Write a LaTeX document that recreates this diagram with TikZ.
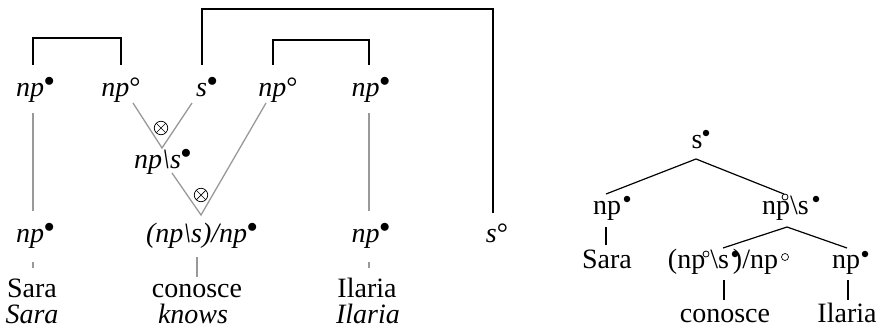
\documentclass[tikz,border=0pt]{standalone}
\usepackage{fontspec}
\setmainfont{Liberation Serif}
\newcommand{\pb}{\ensuremath{^{\bullet}}}
\newcommand{\pw}{\textdegree}
\tikzset{
  lbl/.style={anchor=base, inner sep=0pt, font=\fontsize{28}{32}\selectfont},
  trace/.style={draw=black!40, line width=1.3pt},
  axiom/.style={draw=black, line width=2pt},
  branch/.style={draw=black, line width=1.2pt},
  tensor/.style={circle, draw=black, line width=0.7pt, minimum size=13.5pt, inner sep=0pt,
    path picture={\draw[line width=0.7pt] (path picture bounding box.north west) -- (path picture bounding box.south east)
      (path picture bounding box.north east) -- (path picture bounding box.south west);}},
  fulldot/.style={circle, fill=black, inner sep=0pt, minimum size=6.5pt},
  opendot/.style={circle, draw=black, fill=white, line width=0.8pt, inner sep=0pt, minimum size=6pt}
}
\begin{document}
\begin{tikzpicture}[x=1pt,y=-1pt]
\useasboundingbox (0,0) rectangle (880,329);

% ---- proof net ----
\node[lbl] (t1) at (35.5,96) {\textit{np}\pb};
\node[lbl] (t2) at (121,96) {\textit{np}\pw};
\node[lbl] (t3) at (207,96) {\textit{s}\pb};
\node[lbl] (t4) at (278,96) {\textit{np}\pw};
\node[lbl] (t5) at (371,96) {\textit{np}\pb};
\node[lbl] (m1) at (163,168) {\textit{np\textbackslash s}\pb};
\node[lbl] (b1) at (35.5,242) {\textit{np}\pb};
\node[lbl] (b2) at (202,242) {\textit{(np\textbackslash s)/np}\pb};
\node[lbl] (b3) at (371,242) {\textit{np}\pb};
\node[lbl] (b4) at (497,242) {\textit{s}\pw};
\node[lbl] (w1) at (32,297) {Sara};
\node[lbl] (w2) at (197,297) {conosce};
\node[lbl] (w3) at (367,297) {Ilaria};
\node[lbl] (g1) at (32,323) {\textit{Sara}};
\node[lbl] (g2) at (193,323) {\textit{knows}};
\node[lbl] (g3) at (368,323) {\textit{Ilaria}};

% tensor links
\node[tensor] (x1) at (161,128) {};
\node[tensor] (x2) at (201,195) {};
\coordinate (v1a) at (133,103);
\coordinate (v1b) at (192,103);
\coordinate (v1c) at (162,148);
\coordinate (v2a) at (172,173);
\coordinate (v2b) at (266,103);
\coordinate (v2c) at (201,215);
\draw[trace] (v1a) -- (v1c) -- (v1b);
\draw[trace] (v2a) -- (v2c) -- (v2b);

% lexical traces
\coordinate (s1) at (33,113);  \coordinate (s2) at (33,211);
\coordinate (i1) at (369,113); \coordinate (i2) at (369,211);
\draw[trace] (s1) -- (s2);
\draw[trace] (i1) -- (i2);
\coordinate (ws1) at (33,262);  \coordinate (ws2) at (33,268);
\coordinate (wc1) at (197,257); \coordinate (wc2) at (197,277);
\coordinate (wi1) at (369,262); \coordinate (wi2) at (369,268);
\draw[trace] (ws1) -- (ws2);
\draw[trace] (wc1) -- (wc2);
\draw[trace] (wi1) -- (wi2);

% axiom links
\coordinate (a1) at (33,65);   \coordinate (a2) at (121,65);
\coordinate (a3) at (273,65);  \coordinate (a4) at (369,65);
\coordinate (a5) at (202,65);  \coordinate (a6) at (493,213);
\draw[axiom] (a1) -- ++(0,-27) -| (a2);
\draw[axiom] (a3) -- ++(0,-25) -| (a4);
\draw[axiom] (a5) -- (202,9) -| (a6);

% ---- derivation tree ----
\node[lbl] (rs) at (697,148) {s};
\node[lbl] (rnp) at (607,214) {np};
\node[lbl] (rvp) at (785.5,214) {np\textbackslash s};
\node[lbl] (rsara) at (607,268) {Sara};
\node[lbl] (rv) at (723,268) {(np\kern5pt\textbackslash s\kern4pt)/np};
\node[lbl] (rnp2) at (846,268) {np};
\node[lbl] (rcon) at (725,322) {conosce};
\node[lbl] (ril) at (847,322) {Ilaria};

% polarity marks of the tree labels
\node[fulldot] at (706,133) {};
\node[fulldot] at (627,199) {};
\node[opendot] (rc1) at (785,197) {};
\node[fulldot] at (816,199) {};
\node[opendot] at (706,254) {};
\node[fulldot] at (735,254) {};
\node[opendot, minimum size=7pt, line width=0.7pt] at (785,257) {};
\node[fulldot] at (865,254) {};

\coordinate (r0) at (696,159);
\coordinate (r1) at (606,194);
\coordinate (r2) at (784,194);
\coordinate (r3) at (787,227);
\coordinate (r4) at (723,248);
\coordinate (r5) at (847,248);
\draw[branch] (r1) -- (r0) -- (r2);
\draw[branch] (r4) -- (r3) -- (r5);
\coordinate (q1) at (606,227); \coordinate (q2) at (606,245);
\coordinate (q3) at (724,280); \coordinate (q4) at (724,300);
\coordinate (q5) at (848,280); \coordinate (q6) at (848,300);
\draw[branch] (q1) -- (q2);
\draw[branch] (q3) -- (q4);
\draw[branch] (q5) -- (q6);
\end{tikzpicture}
\end{document}
